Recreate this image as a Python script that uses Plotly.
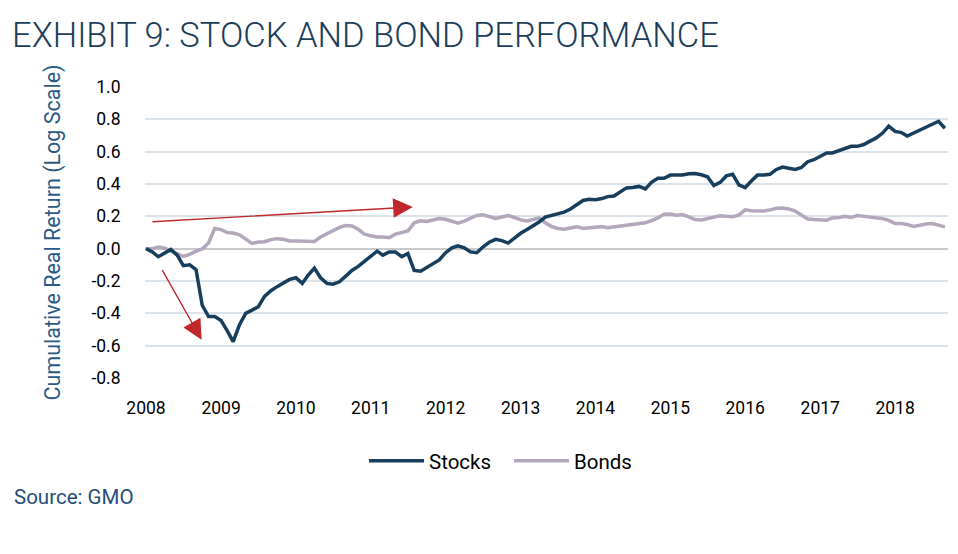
import pandas as pd
import plotly.graph_objects as go

# ---- data (monthly, Jan 2008 - Sep 2018) ----
start_month = "2008-01-01"
stocks = [
    0.0, -0.02, -0.05, -0.025, -0.005, -0.04, -0.105, -0.10, -0.13, -0.35, -0.42, -0.42,
    -0.445, -0.51, -0.575, -0.47, -0.40, -0.38, -0.36, -0.295, -0.26, -0.235, -0.215, -0.19,
    -0.18, -0.215, -0.165, -0.12, -0.18, -0.215, -0.22, -0.205, -0.17, -0.135, -0.11, -0.08,
    -0.045, -0.015, -0.04, -0.02, -0.02, -0.05, -0.03, -0.135, -0.14, -0.115, -0.095, -0.07,
    -0.025, 0.005, 0.018, 0.005, -0.02, -0.025, 0.01, 0.04, 0.058, 0.05, 0.035, 0.065,
    0.095, 0.118, 0.14, 0.165, 0.195, 0.205, 0.218, 0.226, 0.245, 0.27, 0.298, 0.305,
    0.302, 0.31, 0.322, 0.326, 0.35, 0.376, 0.378, 0.385, 0.37, 0.41, 0.435, 0.435,
    0.455, 0.455, 0.456, 0.463, 0.465, 0.457, 0.445, 0.39, 0.41, 0.45, 0.46, 0.395,
    0.378, 0.42, 0.455, 0.455, 0.46, 0.49, 0.505, 0.497, 0.49, 0.502, 0.538, 0.55,
    0.573, 0.592, 0.592, 0.605, 0.62, 0.633, 0.633, 0.644, 0.665, 0.685, 0.715, 0.758,
    0.725, 0.718, 0.697, 0.716, 0.735, 0.751, 0.775, 0.788, 0.745,
]
bonds = [
    0.0, 0.0, 0.01, 0.003, -0.015, -0.03, -0.048, -0.035, -0.015, -0.002, 0.035, 0.125,
    0.118, 0.10, 0.097, 0.086, 0.06, 0.032, 0.041, 0.043, 0.056, 0.062, 0.058, 0.048,
    0.048, 0.047, 0.043, 0.045, 0.072, 0.093, 0.113, 0.132, 0.143, 0.14, 0.12, 0.09,
    0.08, 0.072, 0.072, 0.068, 0.09, 0.103, 0.11, 0.16, 0.172, 0.168, 0.18, 0.186,
    0.182, 0.17, 0.158, 0.17, 0.19, 0.205, 0.21, 0.196, 0.187, 0.196, 0.205, 0.193,
    0.178, 0.171, 0.178, 0.19, 0.16, 0.137, 0.125, 0.12, 0.128, 0.136, 0.125, 0.128,
    0.134, 0.137, 0.13, 0.135, 0.138, 0.144, 0.15, 0.157, 0.16, 0.174, 0.19, 0.213,
    0.215, 0.207, 0.211, 0.196, 0.18, 0.178, 0.188, 0.196, 0.204, 0.20, 0.198, 0.207,
    0.24, 0.235, 0.233, 0.233, 0.24, 0.25, 0.252, 0.246, 0.233, 0.208, 0.183, 0.18,
    0.178, 0.176, 0.19, 0.192, 0.20, 0.193, 0.205, 0.20, 0.194, 0.192, 0.186, 0.175,
    0.155, 0.155, 0.15, 0.138, 0.147, 0.152, 0.155, 0.146, 0.135,
]
year_ticks = list(range(2008, 2019))
y_ticks = [1.0, 0.8, 0.6, 0.4, 0.2, 0.0, -0.2, -0.4, -0.6, -0.8]

# annotation arrows (tail -> head), in data coordinates
arrow_up = dict(tail=("2008-01-25", 0.166), head=("2011-07-25", 0.258))
arrow_down = dict(tail=("2008-03-16", -0.124), head=("2008-09-28", -0.563))

dates = pd.date_range(start_month, periods=len(stocks), freq="MS")

NAVY = "#173e5c"
BOND = "#b2a7bb"
RED = "#c0282b"
FONT = "Roboto, sans-serif"

# page has an 8px body margin; figure is sized to fill the rest of the window
W, H = 950, 546

fig = go.Figure()
fig.add_trace(go.Scatter(x=dates, y=bonds, mode="lines", name="Bonds",
                         line=dict(color=BOND, width=3.5)))
fig.add_trace(go.Scatter(x=dates, y=stocks, mode="lines", name="Stocks",
                         line=dict(color=NAVY, width=3.5)))

for arr in (arrow_up, arrow_down):
    fig.add_annotation(x=arr["head"][0], y=arr["head"][1], ax=arr["tail"][0], ay=arr["tail"][1],
                       xref="x", yref="y", axref="x", ayref="y", text="", showarrow=True,
                       arrowhead=2, arrowsize=2.8, arrowwidth=1.4, arrowcolor=RED)

fig.add_annotation(text="Source: GMO", xref="paper", yref="paper",
                   x=(12 - 145) / 803, y=(378 - 497) / 291, xanchor="left", yanchor="middle",
                   showarrow=False, font=dict(family=FONT, size=20.5, color="#1f4e79"))

fig.update_layout(
    width=W, height=H,
    margin=dict(l=137, r=10, t=79, b=176),
    paper_bgcolor="white", plot_bgcolor="white",
    title=dict(text="EXHIBIT 9: STOCK AND BOND PERFORMANCE", xref="container", yref="container",
               x=4 / W, y=1 - 27 / H, xanchor="left", yanchor="middle",
               font=dict(family=FONT, size=34.5, color="#1c3d5a", weight=300)),
    font=dict(family=FONT, size=17, color="black"),
    legend=dict(orientation="h", x=(364 - 145) / 803, y=-0.285, xanchor="left", yanchor="middle",
                font=dict(family=FONT, size=20.5, color="black"),
                itemwidth=55, entrywidth=75, entrywidthmode="pixels",
                traceorder="reversed"),
    showlegend=True,
)
fig.update_xaxes(
    type="date",
    range=["2007-12-27", "2018-09-16"],
    tickvals=[pd.Timestamp(f"{y}-01-01") for y in year_ticks],
    ticktext=[str(y) for y in year_ticks],
    showgrid=False, zeroline=False, showline=False,
    ticks="outside", ticklen=14, tickcolor="rgba(0,0,0,0)",
    tickfont=dict(family=FONT, size=17.5, color="black"),
)
fig.update_yaxes(
    range=[-0.8, 1.0],
    tickvals=y_ticks,
    ticktext=[f"{v:.1f}" for v in y_ticks],
    showgrid=True, gridcolor="#dae2ea", gridwidth=1.5,
    zeroline=True, zerolinecolor="#c9c9c9", zerolinewidth=2,
    showline=False,
    ticks="outside", ticklen=20, tickcolor="rgba(0,0,0,0)",
    tickfont=dict(family=FONT, size=17.5, color="black"),
    title=dict(text="Cumulative Real Return (Log Scale)", standoff=24,
               font=dict(family=FONT, size=21.5, color="#2a5a84")),
)

fig.write_html("out.html")
